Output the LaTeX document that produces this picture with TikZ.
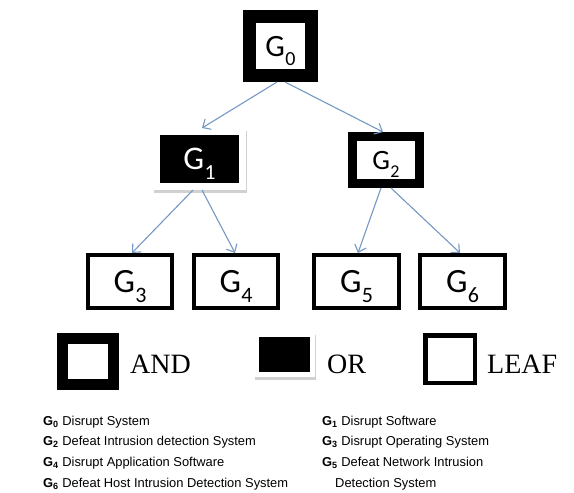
\documentclass[tikz,border=0pt]{standalone}
\usepackage{fontspec}
\setmainfont{Liberation Sans}
\newfontfamily\calib{Carlito}
\newfontfamily\legserif{Liberation Serif}
\usetikzlibrary{arrows.meta}
\definecolor{arrowblue}{RGB}{118,152,196}
\newcommand\glab[3]{{\calib\fontsize{#1}{#1}\selectfont G\kern0.01em\raisebox{-0.3em}{\fontsize{#2}{#2}\selectfont #3}}}
\newcommand\gb[1]{\textbf{G\textsubscript{#1}}}
\tikzset{
  andnode/.style={draw=black, fill=white, line width=#1, outer sep=#1/2, inner sep=0pt, text depth=0pt},
  ornode/.style={draw=white, fill=black, line width=#1, outer sep=#1/2, inner sep=0pt, text depth=0pt, text=white,
     preaction={draw=black!18, fill=black!18, line width=#1, transform canvas={xshift=1pt, yshift=-2.5pt}}},
  leafnode/.style={draw=black, fill=white, line width=3.6pt, outer sep=1.8pt, inner sep=0pt,
     minimum width=84.5pt, minimum height=53.5pt, text height=22pt, text depth=0pt},
  arr/.style={draw=arrowblue, line width=1.1pt, -{Straight Barb[length=6.5pt, width=12pt, line width=1.1pt]}},
  desc/.style={anchor=base west, inner sep=0pt, font=\fontsize{12.9}{14}\selectfont},
  legtext/.style={anchor=base west, inner sep=0pt, font=\legserif\fontsize{28}{28}\selectfont}
}
\begin{document}
\begin{tikzpicture}[x=1pt, y=-1pt]
\useasboundingbox[fill=white] (0,0) rectangle (574,493);
% tree
\node[andnode=13pt, minimum width=62pt, minimum height=59pt, text height=20pt] (g0) at (280.5,46) {\glab{31}{20}{0}};
\node[ornode=7pt, minimum width=86pt, minimum height=55pt, text height=21pt] (g1) at (199.5,159) {\glab{33}{21.5}{1}};
\node[andnode=9pt, minimum width=67pt, minimum height=47pt, text height=18pt] (g2) at (386,160) {\glab{28}{18}{2}};
\node[leafnode] (g3) at (130,281.5) {\glab{34}{22}{3}};
\node[leafnode] (g4) at (236,281.5) {\glab{34}{22}{4}};
\node[leafnode] (g5) at (356.5,281.5) {\glab{34}{22}{5}};
\node[leafnode] (g6) at (462.5,281.5) {\glab{34}{22}{6}};
% connectors
\draw[arr] ([xshift=-3.5pt]g0.south) -- ([xshift=2.5pt]g1.north);
\draw[arr] ([xshift=4.5pt]g0.south) -- ([xshift=-3pt]g2.north);
\draw[arr] ([xshift=-6.5pt]g1.south) -- ([xshift=2pt]g3.north);
\draw[arr] ([xshift=2.5pt]g1.south) -- ([xshift=-1pt]g4.north);
\draw[arr] ([xshift=-5pt]g2.south) -- ([xshift=1.5pt]g5.north);
\draw[arr] ([xshift=5pt]g2.south) -- ([xshift=-2.5pt]g6.north);
% legend
\node[andnode=11pt, minimum width=51pt, minimum height=46pt] (land) at (88,361.5) {};
\node[legtext] (tand) at (130,373) {AND};
\node[ornode=5pt, minimum width=56pt, minimum height=40pt] (lor) at (284.5,354.5) {};
\node[legtext] (tor) at (327,373) {OR};
\node[andnode=4.5pt, minimum width=49.5pt, minimum height=47.5pt] (lleaf) at (450,359) {};
\node[legtext] (tleaf) at (487,373) {LEAF};
% descriptions
\node[desc] (d0) at (43,425) {\gb{0} Disrupt System};
\node[desc] (d2) at (43,445.7) {\gb{2} Defeat Intrusion detection System};
\node[desc] (d4) at (43,466.4) {\gb{4} Disrupt Application Software};
\node[desc] (d6) at (43,487) {\gb{6} Defeat Host Intrusion Detection System};
\node[desc] (d1) at (322,425) {\gb{1} Disrupt Software};
\node[desc] (d3) at (322,445.7) {\gb{3} Disrupt Operating System};
\node[desc] (d5) at (322,466.4) {\gb{5} Defeat Network Intrusion};
\node[desc] (d5b) at (335,487) {Detection System};
\end{tikzpicture}
\end{document}
